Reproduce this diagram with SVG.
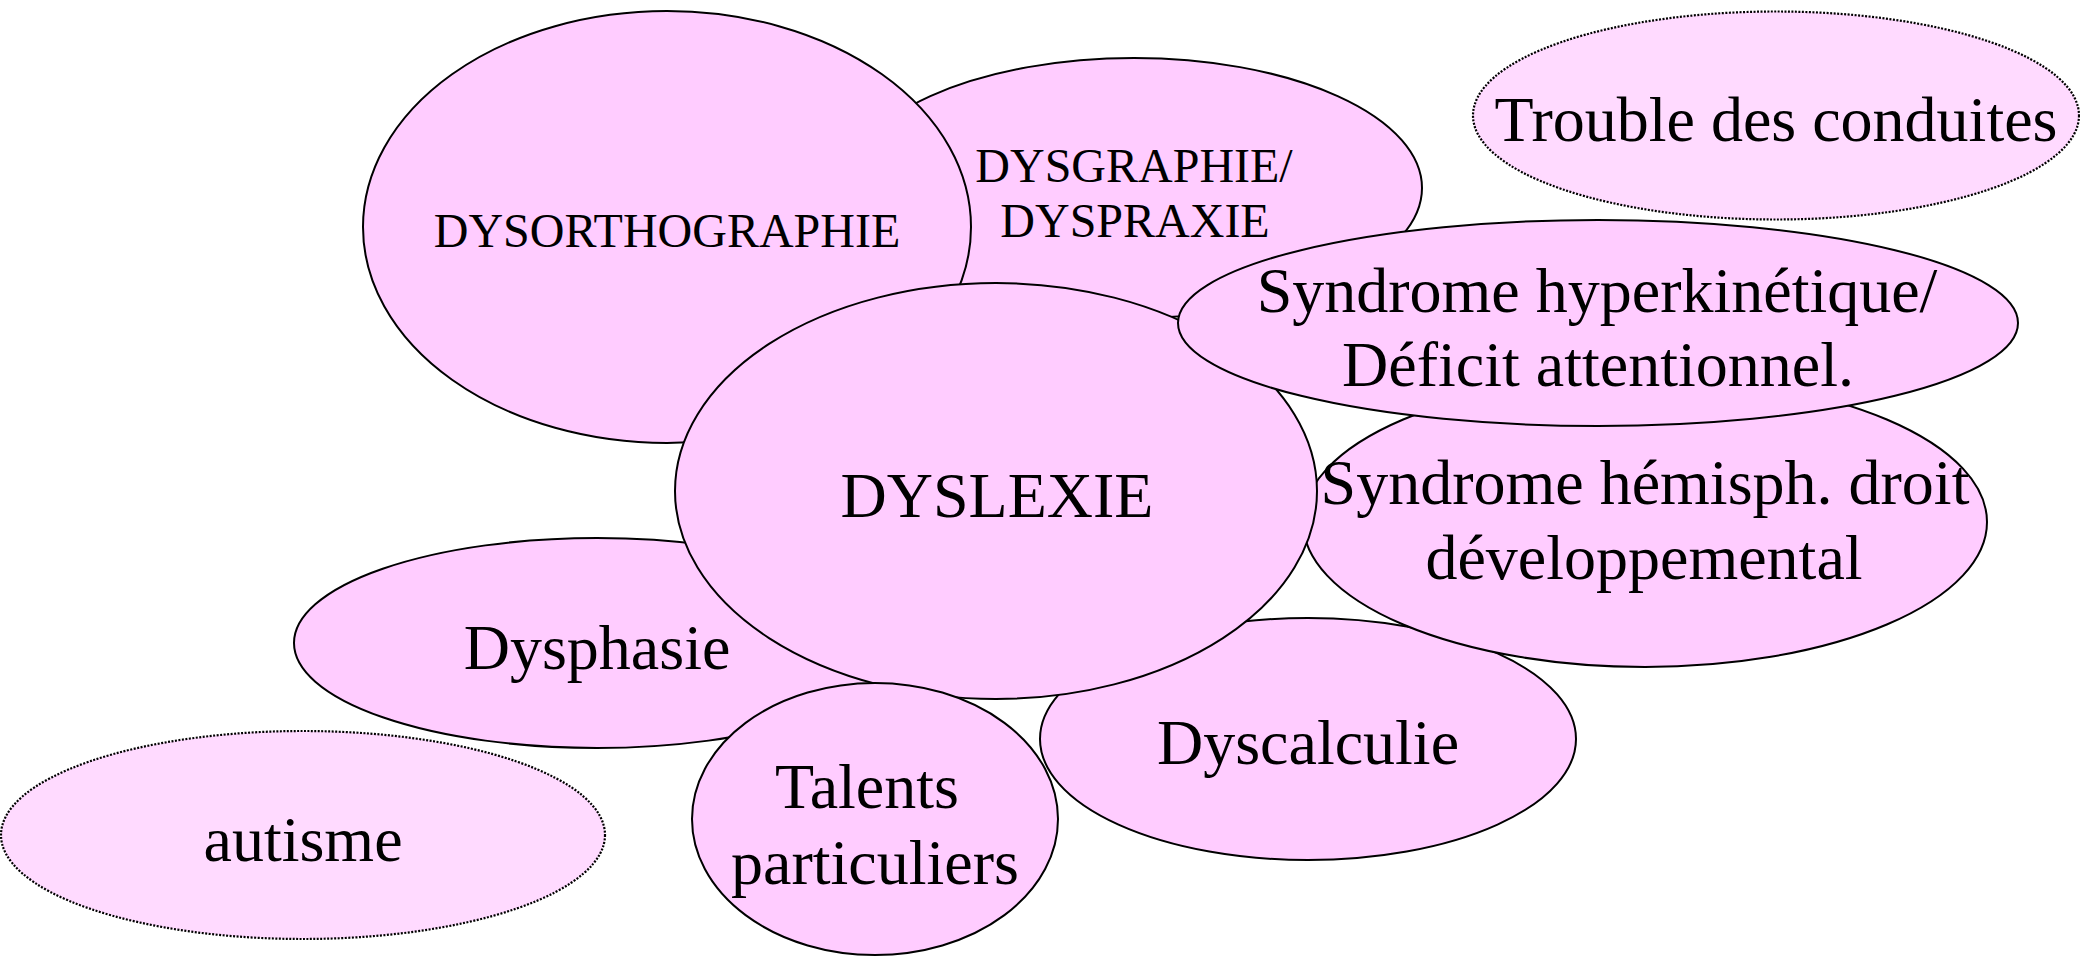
<svg xmlns="http://www.w3.org/2000/svg" width="2080" height="959" viewBox="0 0 2080 959">
<style>
.n{fill:#FFCCFF;stroke:#000;stroke-width:2}
.d{fill:#FFDAFF;stroke:#000;stroke-width:2.2;stroke-dasharray:2 1.5}
text{fill:#000;text-anchor:middle}
.b{font-size:64px}
.s{font-size:48px}
</style>
<rect width="2080" height="959" fill="#fff"/>
<g font-family="'Liberation Serif', 'Times New Roman', 'DejaVu Serif', serif">
<g id="dysgraphie"><ellipse class="n" cx="1134" cy="188" rx="288" ry="130"/><text class="s" x="1134" y="182">DYSGRAPHIE/</text><text class="s" x="1135" y="237">DYSPRAXIE</text></g>
<g id="dysorthographie"><ellipse class="n" cx="667" cy="227" rx="304" ry="216"/><text class="s" x="667" y="247">DYSORTHOGRAPHIE</text></g>
<g id="dyscalculie"><ellipse class="n" cx="1308" cy="739" rx="268" ry="121"/><text class="b" x="1308" y="764">Dyscalculie</text></g>
<g id="hemisph"><ellipse class="n" cx="1645" cy="522" rx="342" ry="145"/><text class="b" x="1645" y="504">Syndrome hémisph. droit</text><text class="b" x="1644" y="579">développemental</text></g>
<g id="dysphasie"><ellipse class="n" cx="597" cy="643" rx="303" ry="105"/><text class="b" x="597" y="669">Dysphasie</text></g>
<g id="dyslexie"><ellipse class="n" cx="996" cy="491" rx="321" ry="208"/><text class="b" x="997" y="517">DYSLEXIE</text></g>
<g id="hyperkinetique"><ellipse class="n" cx="1598" cy="323" rx="420" ry="103"/><text class="b" x="1597" y="312">Syndrome hyperkinétique/</text><text class="b" x="1598" y="386">Déficit attentionnel.</text></g>
<g id="talents"><ellipse class="n" cx="875" cy="819" rx="183" ry="136"/><text class="b" x="867" y="808">Talents</text><text class="b" x="875" y="884">particuliers</text></g>
<g id="trouble"><ellipse class="d" cx="1776" cy="115.5" rx="303" ry="104"/><text class="b" x="1776" y="141">Trouble des conduites</text></g>
<g id="autisme"><ellipse class="d" cx="303" cy="835" rx="302" ry="104"/><text class="b" x="303" y="861">autisme</text></g>
</g>
<g id="connectors"/>
</svg>
